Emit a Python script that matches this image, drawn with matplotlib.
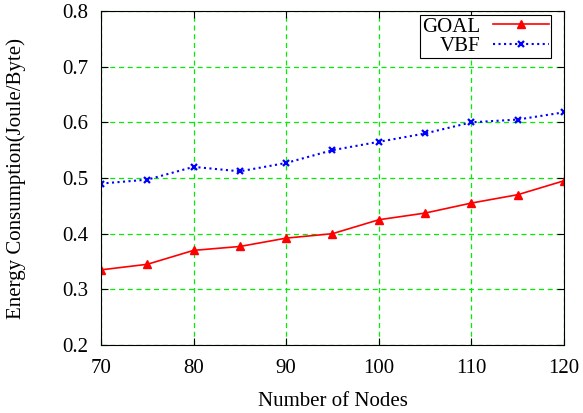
import numpy as np
import matplotlib.pyplot as plt

plt.rcParams['font.family'] = ['Liberation Serif', 'DejaVu Serif']

nodes = [70, 75, 80, 85, 90, 95, 100, 105, 110, 115, 120]
goal = [0.335, 0.345, 0.370, 0.377, 0.392, 0.400, 0.425, 0.437, 0.455, 0.470, 0.495]
vbf = [0.490, 0.497, 0.520, 0.512, 0.527, 0.550, 0.565, 0.580, 0.600, 0.605, 0.618]

fig = plt.figure(figsize=(5.83, 4.13), dpi=100)
ax = fig.add_axes([0.1732, 0.1646, 0.7942, 0.8088])

ax.plot(nodes, goal, color='red', marker='^', markersize=5.5, linewidth=1.2, label='GOAL')
ax.plot(nodes, vbf, color='blue', marker='x', markersize=4.5, markeredgewidth=1.6,
        linestyle=':', linewidth=1.5, label='VBF')

ax.set_xlim(70, 120)
ax.set_ylim(0.2, 0.8)
ax.set_xticks(np.arange(70, 121, 10))
ax.set_yticks(np.arange(0.2, 0.81, 0.1))
ax.grid(True, color='#00ee00', linestyle=(0, (4, 3)), linewidth=0.9)
ax.tick_params(direction='in', top=True, right=True, labelsize=15, length=5)
ax.tick_params(axis='y', pad=9)
ax.tick_params(axis='x', pad=10)
ax.set_xlabel('Number of Nodes', fontsize=15, labelpad=10)
ax.set_ylabel('Energy Consumption(Joule/Byte)', fontsize=15, labelpad=26)

leg = ax.legend(loc='upper right', bbox_to_anchor=(0.972, 0.988), markerfirst=False,
                fontsize=15, fancybox=False, framealpha=1, edgecolor='black',
                borderaxespad=0, handlelength=2.7, handletextpad=0.6,
                borderpad=0.1, labelspacing=0.0)
leg.get_frame().set_linewidth(0.8)

fig.savefig('out.png', dpi=100)
